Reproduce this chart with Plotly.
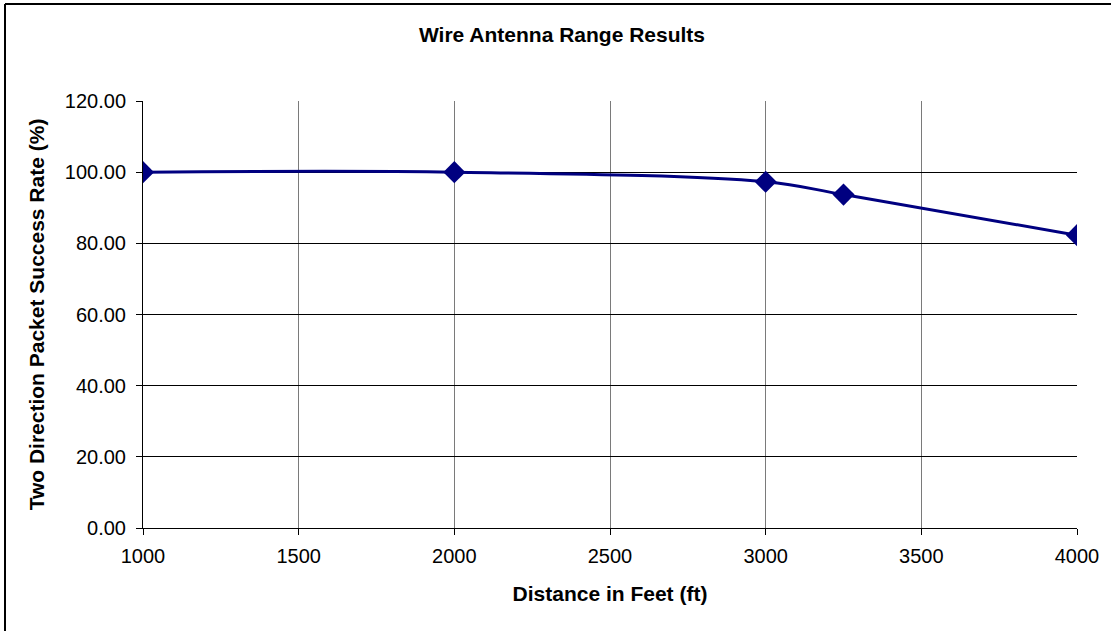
import plotly.graph_objects as go

distance_ft = [1000, 2000, 3000, 3250, 4000]
success_rate = [100.0, 100.0, 97.3, 93.7, 82.3]
x_ticks = [1000, 1500, 2000, 2500, 3000, 3500, 4000]
y_ticks = [0, 20, 40, 60, 80, 100, 120]
y_tick_labels = ["%.2f" % v for v in y_ticks]

W, H = 1111, 631
L, R, T, B = 143, 1077, 101, 528

fig = go.Figure()
fig.add_trace(go.Scatter(
    x=distance_ft, y=success_rate, mode="lines+markers",
    line=dict(color="#000080", width=3, shape="spline", smoothing=1.0),
    marker=dict(symbol="diamond", size=17, color="#000080"),
    showlegend=False, hoverinfo="x+y",
))

font = "Liberation Sans, Arial, sans-serif"
fig.update_layout(
    width=W, height=H,
    margin=dict(l=L, r=W - R, t=T, b=H - B, pad=0),
    paper_bgcolor="white", plot_bgcolor="white",
    font=dict(family=font, size=18, color="black"),
    title=dict(text="<b>Wire Antenna Range Results</b>", x=562 / W, xanchor="center",
               y=1 - 35 / H, yanchor="middle", font=dict(size=21)),
    xaxis=dict(range=[1000, 4000], tickvals=x_ticks, ticks="outside", ticklen=6,
               tickcolor="black", showgrid=True, gridcolor="#7a7a7a", gridwidth=1,
               showline=True, linecolor="black", linewidth=1, zeroline=False,
               ticklabelstandoff=4,
               title=dict(text="<b>Distance in Feet (ft)</b>", standoff=20, font=dict(size=21)),
               tickfont=dict(size=20)),
    yaxis=dict(range=[0, 120], tickvals=y_ticks, ticktext=y_tick_labels, ticks="outside",
               ticklen=6, tickcolor="black", showgrid=True, gridcolor="black", gridwidth=1,
               showline=True, linecolor="black", linewidth=1, zeroline=False,
               ticklabelstandoff=6,
               title=dict(text="<b>Two Direction Packet Success Rate (%)</b>", standoff=14,
                          font=dict(size=21)),
               tickfont=dict(size=20)),
)

# outer chart frame (top and left edges visible in the crop)
pw, ph = R - L, B - T
fx = (5 - L) / pw
fy = (B - 4) / ph
fig.add_shape(type="line", xref="paper", yref="paper", x0=fx, x1=(W - L) / pw,
              y0=fy, y1=fy, line=dict(color="black", width=2), layer="above")
fig.add_shape(type="line", xref="paper", yref="paper", x0=fx, x1=fx,
              y0=fy, y1=(B - H) / ph, line=dict(color="black", width=2), layer="above")

fig.write_html(
    "out.html",
    config={"displayModeBar": False},
    post_script="document.body.style.margin='0';document.body.style.overflow='hidden';"
    "document.documentElement.style.overflow='hidden';",
)
